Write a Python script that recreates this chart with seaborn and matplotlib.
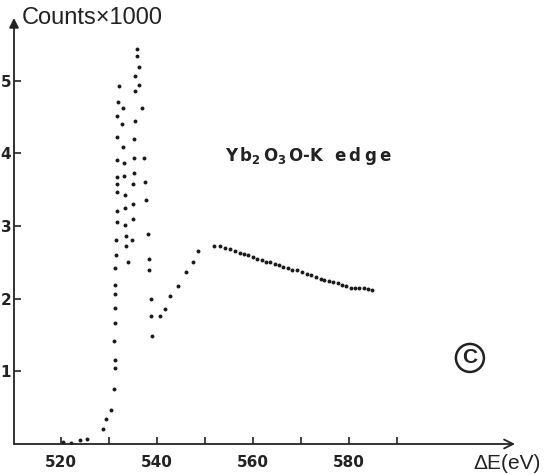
import matplotlib
matplotlib.use("Agg")
import matplotlib.pyplot as plt
from matplotlib.patches import Ellipse
import seaborn as sns
import pandas as pd

# ---- data ----
energy_ev = [
    520.5, 522.1, 523.9, 525.5,
    528.8, 529.4, 530.4, 531.0, 531.2, 531.2, 531.1, 531.25, 531.25, 531.25,
    531.25, 531.25, 531.5, 531.5, 531.6, 531.6, 531.7, 531.7, 531.7, 531.7,
    531.7, 531.7, 531.8, 532.1,
    534.0, 533.6, 533.6, 533.4, 533.3, 533.3, 533.1, 533.1, 533.0, 532.7, 532.9,
    534.8, 534.9, 535.1, 535.1, 535.2, 535.2, 535.2, 535.4, 535.4, 535.4,
    536.2, 535.8, 535.9, 536.25,
    536.8, 537.2, 537.6, 537.7, 538.1, 538.3, 538.4, 538.7, 538.75, 539.0,
    540.7, 541.7, 542.8, 544.3, 546.0, 547.5, 548.6,
    551.8, 553.1, 554.2, 555.2, 556.25, 557.2, 558.1, 559.0, 560.0, 560.9,
    561.9, 562.8, 563.6, 564.5, 565.4, 566.3, 567.2, 568.1, 569.2, 570.2,
    571.2, 572.1, 573.1, 574.1, 574.9, 575.8, 576.7, 577.7, 578.5, 579.4,
    580.4, 581.2, 582.0, 583.1, 584.0, 584.9,
]
counts_k = [
    0.03, 0.02, 0.05, 0.065,
    0.20, 0.35, 0.47, 0.75, 1.04, 1.16, 1.41, 1.66, 1.87, 2.06,
    2.19, 2.42, 2.60, 2.80, 3.05, 3.21, 3.47, 3.58, 3.67, 3.90,
    4.22, 4.51, 4.71, 4.92,
    2.51, 2.72, 2.86, 3.01, 3.24, 3.42, 3.69, 3.87, 4.08, 4.40, 4.62,
    2.80, 3.09, 3.30, 3.57, 3.73, 3.93, 4.20, 4.45, 4.85, 5.06,
    5.18, 5.34, 5.44, 4.94,
    4.62, 3.94, 3.61, 3.36, 2.89, 2.54, 2.39, 1.99, 1.76, 1.48,
    1.76, 1.86, 2.04, 2.18, 2.36, 2.50, 2.65,
    2.72, 2.72, 2.70, 2.68, 2.66, 2.63, 2.62, 2.60, 2.57, 2.55,
    2.53, 2.51, 2.50, 2.48, 2.46, 2.44, 2.42, 2.40, 2.39, 2.36,
    2.34, 2.32, 2.30, 2.27, 2.26, 2.24, 2.23, 2.21, 2.19, 2.17,
    2.15, 2.15, 2.14, 2.14, 2.13, 2.12,
]

x_ticks = [520, 530, 540, 550, 560, 570, 580, 590]
x_tick_labels = ["520", "", "540", "", "560", "", "580", ""]
y_ticks = [1, 2, 3, 4, 5]
y_tick_labels = ["1", "2", "3", "4", "5"]

df = pd.DataFrame({"E": energy_ev, "C": counts_k})

sns.set_style("white")
plt.rcParams["font.family"] = ["DejaVu Sans"]
plt.rcParams["mathtext.fontset"] = "dejavusans"

W, H = 545, 475
fig = plt.figure(figsize=(W / 100, H / 100), dpi=100)
ax_l, ax_r, ax_t, ax_b = 14, 515, 18, 444
ax = fig.add_axes([ax_l / W, 1 - ax_b / H, (ax_r - ax_l) / W, (ax_b - ax_t) / H])

sns.scatterplot(data=df, x="E", y="C", ax=ax, s=8, color="#1a1a1a",
                edgecolor=None, linewidth=0, legend=False)

ax.set_xlim(510.2, 614.6)
ax.set_ylim(0, 5.86)
for s in ax.spines.values():
    s.set_visible(False)

ax.set_xticks(x_ticks)
ax.set_xticklabels(x_tick_labels, fontweight="bold", fontsize=11, color="#222")
ax.set_yticks(y_ticks)
ax.set_yticklabels(y_tick_labels, fontweight="bold", fontsize=11, color="#222")
ax.tick_params(axis="x", direction="in", length=5, width=1.2, pad=8, color="#222",
               bottom=True)
ax.tick_params(axis="y", direction="in", length=5, width=1.2, pad=2, color="#222",
               left=True)
ax.set_xlabel("")
ax.set_ylabel("")

# axis arrows
ax.annotate("", xy=(1, 0), xytext=(0, 0), xycoords="axes fraction",
            arrowprops=dict(arrowstyle="->", lw=1.3, color="#222",
                            shrinkA=0, shrinkB=0, mutation_scale=16))
ax.annotate("", xy=(0, 1), xytext=(0, 0), xycoords="axes fraction",
            arrowprops=dict(arrowstyle="-|>", lw=1.3, color="#222",
                            shrinkA=0, shrinkB=0, mutation_scale=14))

ax.text(0.016, 1.0, "Counts×1000", transform=ax.transAxes, ha="left", va="center",
        fontsize=17, family="Liberation Sans", color="#222")
ax.text(0.984, -0.045, "ΔE(eV)", transform=ax.transAxes, ha="center", va="center",
        fontsize=15, family="Liberation Sans", color="#222")
ax.text(0.588, 0.676, "$\\mathbf{Y\\,b_{2}\\,O_{3}\\,O}$-K  e\u2009d\u2009g\u2009e",
        transform=ax.transAxes, ha="center", va="center", fontsize=12,
        fontweight="bold", color="#222")

cx, cy = 0.910, 0.202
ax.add_patch(Ellipse((cx, cy), 28 / (ax_r - ax_l), 28 / (ax_b - ax_t),
                     transform=ax.transAxes, fill=False, lw=1.8, ec="#222",
                     clip_on=False))
ax.text(cx, cy, "C", transform=ax.transAxes, ha="center", va="center",
        fontsize=15, fontweight="bold", family="Liberation Sans", color="#222")

fig.savefig("out.png", dpi=100)
